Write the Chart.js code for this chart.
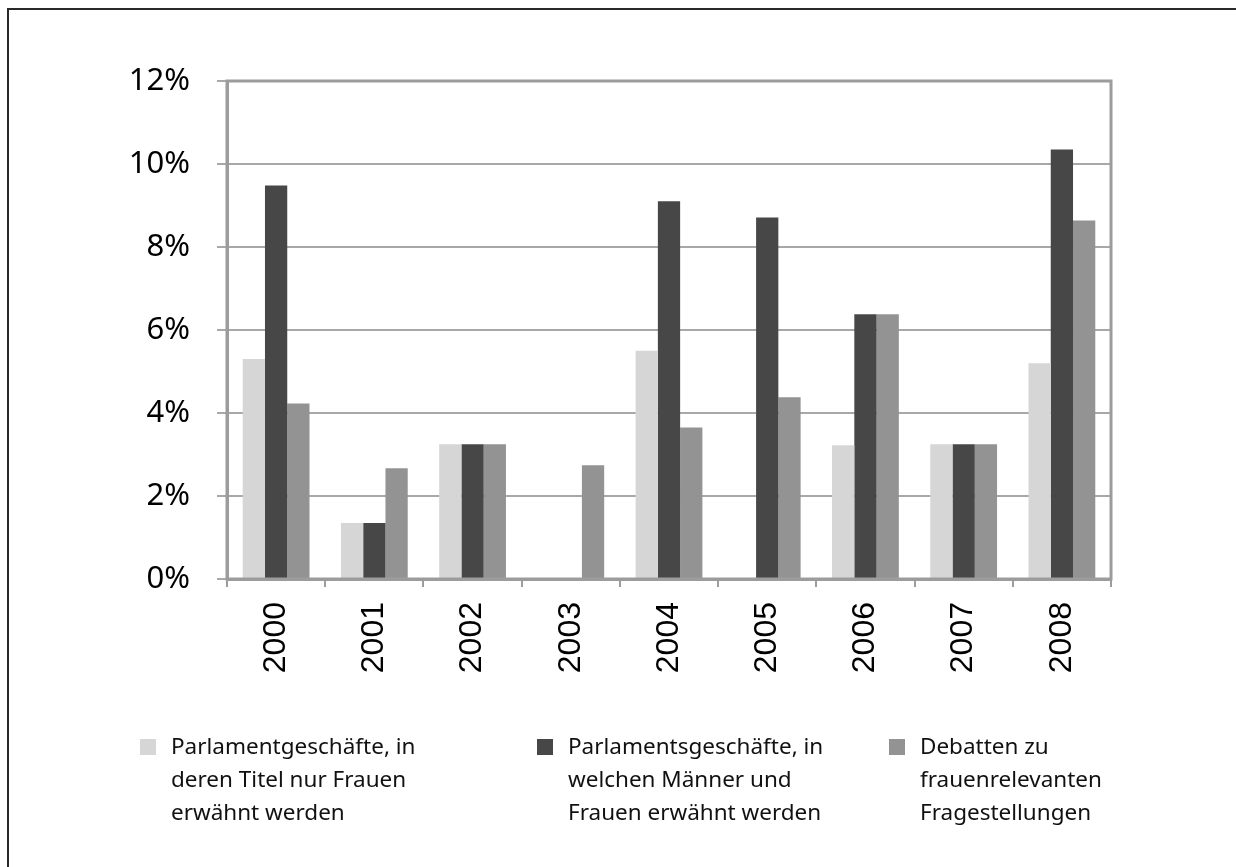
<!DOCTYPE html>
<html>
<head>
<meta charset="utf-8">
<script src="https://cdn.jsdelivr.net/npm/chart.js@4.4.0/dist/chart.umd.min.js"></script>
<style>
    html, body { margin: 0; padding: 0; background: #fff; }
    #wrap { position: relative; width: 1236px; height: 867px; overflow: hidden; }
    #frame {
        position: absolute; left: 7px; top: 8px; width: 1300px; height: 900px;
        border-left: 2px solid #2a2a2a; border-top: 2px solid #2a2a2a;
    }
    #myChart { position: absolute; left: 0; top: 0; }
    .leg { position: absolute; top: 729px; font-family: "Noto Sans", sans-serif; font-size: 22.5px; line-height: 33px; color: #111; }
    .leg span.box { position: absolute; left: -31px; top: 10px; width: 16px; height: 16px; }
</style>
</head>
<body>
<div id="wrap">
    <div id="frame"></div>
    <canvas id="myChart" width="1236" height="867"></canvas>
    <div id="legend"></div>
</div>
<script>
// data
var years = ["2000", "2001", "2002", "2003", "2004", "2005", "2006", "2007", "2008"];
var onlyWomen = [5.3, 1.35, 3.25, 0, 5.5, 0, 3.22, 3.25, 5.2];
var menAndWomen = [9.48, 1.35, 3.25, 0, 9.1, 8.71, 6.38, 3.25, 10.35];
var debates = [4.23, 2.67, 3.25, 2.74, 3.65, 4.38, 6.38, 3.25, 8.64];
var yTicks = [0, 2, 4, 6, 8, 10, 12];

var seriesLines = [
    ["Parlamentgeschäfte, in", "deren Titel nur Frauen", "erwähnt werden"],
    ["Parlamentsgeschäfte, in", "welchen Männer und", "Frauen erwähnt werden"],
    ["Debatten zu", "frauenrelevanten", "Fragestellungen"]
];
var seriesColors = ["#d6d6d6", "#474747", "#939393"];
var legendLeft = [171, 568, 920];

// frame around the plot area (thick grey box)
var plotFrame = {
    id: "plotFrame",
    afterDraw: function (chart) {
        var a = chart.chartArea;
        var ctx = chart.ctx;
        ctx.save();
        ctx.strokeStyle = "#9c9c9c";
        ctx.lineWidth = 3;
        ctx.strokeRect(a.left, a.top, a.right - a.left, a.bottom - a.top);
        ctx.restore();
    }
};

var ctx = document.getElementById("myChart").getContext("2d");
var myChart = new Chart(ctx, {
    type: "bar",
    data: {
        labels: years,
        datasets: [onlyWomen, menAndWomen, debates].map(function (vals, i) {
            return {
                label: seriesLines[i].join(" "),
                data: vals,
                backgroundColor: seriesColors[i],
                borderWidth: 0,
                categoryPercentage: 0.68,
                barPercentage: 1.0
            };
        })
    },
    options: {
        responsive: false,
        animation: false,
        layout: { padding: { top: 81, right: 125, bottom: 188, left: 0 } },
        plugins: {
            legend: { display: false },
            title: { display: false },
            tooltip: { enabled: false }
        },
        scales: {
            x: {
                grid: { drawOnChartArea: false, offset: true, tickLength: 8, color: "#9c9c9c", lineWidth: 2 },
                border: { color: "#9c9c9c", width: 3 },
                ticks: {
                    minRotation: 90, maxRotation: 90, padding: 15,
                    color: "#000",
                    font: { family: "'Liberation Sans', Arial, sans-serif", size: 32 }
                },
                afterFit: function (scale) { scale.height = 100; }
            },
            y: {
                min: 0, max: 12,
                afterBuildTicks: function (scale) {
                    scale.ticks = yTicks.map(function (v) { return { value: v }; });
                },
                grid: { color: "#a8a8a8", lineWidth: 2, tickLength: 10 },
                border: { color: "#9c9c9c", width: 3 },
                ticks: {
                    padding: 27,
                    color: "#000",
                    font: { family: "'Noto Sans', sans-serif", size: 31 },
                    callback: function (v) { return v + "%"; }
                },
                afterFit: function (scale) { scale.width = 227; }
            }
        }
    },
    plugins: [plotFrame]
});

// legend as text below the chart
var legendHtml = "";
myChart.data.datasets.forEach(function (ds, i) {
    legendHtml += '<div class="leg" style="left:' + legendLeft[i] + 'px">' +
        '<span class="box" style="background:' + ds.backgroundColor + '"></span>' +
        seriesLines[i].join("<br>") + "</div>";
});
document.getElementById("legend").innerHTML = legendHtml;
</script>
</body>
</html>
